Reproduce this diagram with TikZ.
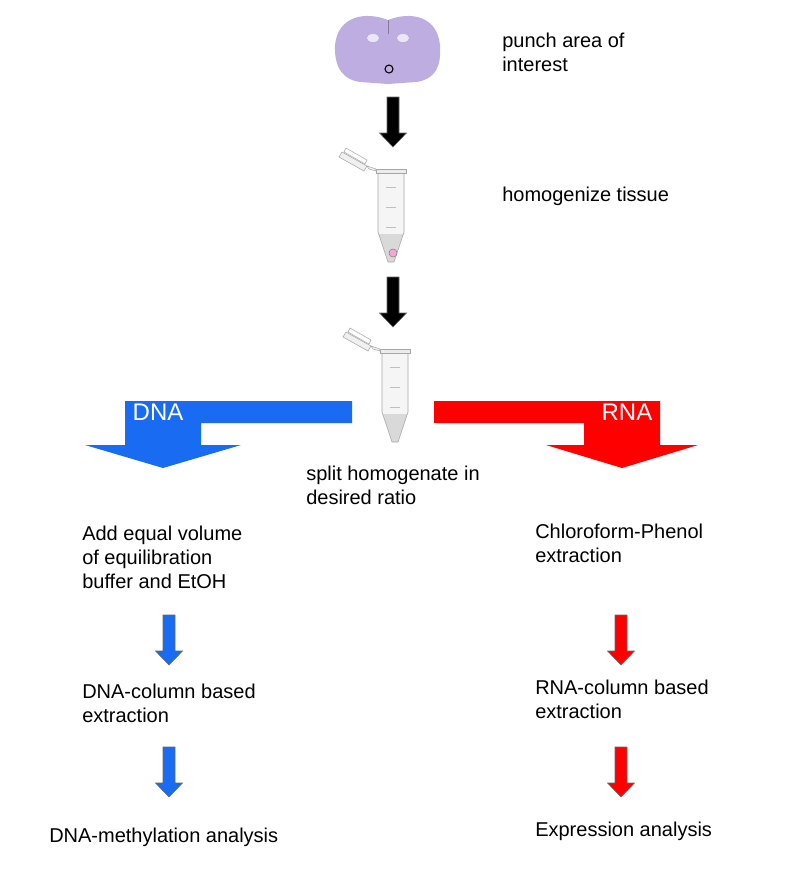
\documentclass[tikz,border=0pt]{standalone}
\usepackage{fontspec}
\setmainfont{Liberation Sans}
\definecolor{dnablue}{rgb}{0.1,0.42,0.95}
\definecolor{rnared}{rgb}{1,0,0}
\definecolor{brainlila}{rgb}{0.74,0.68,0.88}
\tikzset{
  stage/.style={anchor=north west, align=left, inner sep=0pt, font=\fontsize{15}{18}\selectfont},
  flow/.pic={
    \filldraw[draw=black!60, line width=0.4pt, pic actions] (-6,0) -- (6,0) -- (6,36) -- (13.5,36)
      -- (0,50) -- (-13.5,36) -- (-6,36) -- cycle;
  },
  tube/.pic={
    \fill[gray!8] (-13,0) -- (13,0) -- (13,60) -- (3,90) -- (-3,90) -- (-13,60) -- cycle;
    \fill[gray!30] (-13,62) -- (13,62) -- (13,60) -- (3,90) -- (-3,90) -- (-13,60) -- cycle;
    \draw[gray!70] (-13,0) -- (-13,60) -- (-3,90) -- (3,90) -- (13,60) -- (13,0);
    \draw[gray!70, fill=gray!15] (-15,-3) rectangle (15,1);
    \draw[gray!50] (-5,15) -- (5,15) (-5,35) -- (5,35) (-5,55) -- (5,55);
    \draw[gray!70, fill=gray!10] (-15,-3) -- (-24,-6) -- (-22,-3) -- (-15,-1) -- cycle;
    \draw[gray!70, fill=gray!12] (-24,-6) -- (-49,-20) -- (-52,-15) -- (-27,-1) -- cycle;
    \draw[gray!70, fill=white] (-26,-8) -- (-47,-20) -- (-45,-24) -- (-24,-12) -- cycle;
  }
}
\begin{document}
\begin{tikzpicture}[x=0.75pt,y=-0.75pt]
\useasboundingbox (0,0) rectangle (785,876);

% brain section
\fill[brainlila] (388,20) .. controls (365,11) and (338,16) .. (335,45)
  .. controls (334,70) and (345,80) .. (360,82) -- (388,84) -- (416,82)
  .. controls (432,80) and (442,70) .. (440,45)
  .. controls (437,16) and (411,11) .. (388,20) -- cycle;
\draw[brainlila!70!black, line width=0.3pt] (388,20) -- (388,34);
\fill[white!70!brainlila] (373,38) ellipse (6 and 4) (403,38) ellipse (6 and 4);
\node[draw, circle, minimum size=6pt, inner sep=0pt, line width=0.8pt] (punch) at (389,69) {};
\node[stage] (t1) at (502,33) {punch area of\\interest};

% tubes
\pic at (391,172) {tube};
\node[draw=black!50, fill=magenta!35, circle, minimum size=6pt, inner sep=0pt] (tissue) at (393,253) {};
\node[stage] (t2) at (502,187) {homogenize tissue};
\pic at (395,352) {tube};

\pic[fill=black] at (393,97) {flow};
\pic[fill=black] at (393,277) {flow};

% split
\fill[dnablue] (352,401) -- (352,423) -- (201,423) -- (201,445) -- (241,445)
  -- (163,468) -- (85,445) -- (125,445) -- (125,401) -- cycle;
\node[text=white, font=\fontsize{18}{18}\selectfont, anchor=west] (dna) at (128,412) {DNA};
\fill[rnared] (434,401) -- (434,423) -- (584,423) -- (584,445) -- (546,445)
  -- (622,468) -- (698,445) -- (660,445) -- (660,401) -- cycle;
\node[text=white, font=\fontsize{18}{18}\selectfont, anchor=east] (rna) at (657,412) {RNA};
\node[stage] (split) at (306,466) {split homogenate in\\desired ratio};

% DNA branch
\node[stage] (d1) at (82,526) {Add equal volume\\of equilibration\\buffer and EtOH};
\pic[fill=dnablue] at (169,615) {flow};
\node[stage] (d2) at (82,684) {DNA-column based\\extraction};
\pic[fill=dnablue] at (169,747) {flow};
\node[stage] (d3) at (49,828) {DNA-methylation analysis};

% RNA branch
\node[stage] (r1) at (535,524) {Chloroform-Phenol\\extraction};
\pic[fill=rnared] at (621,615) {flow};
\node[stage] (r2) at (535,680) {RNA-column based\\extraction};
\pic[fill=rnared] at (621,747) {flow};
\node[stage] (r3) at (535,822) {Expression analysis};
\end{tikzpicture}
\end{document}
